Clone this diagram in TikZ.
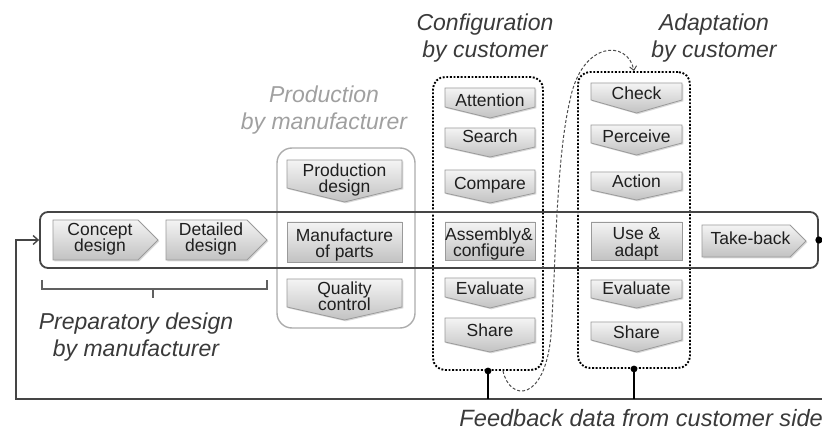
\documentclass[tikz,border=0pt]{standalone}
\usepackage{fontspec}
\setmainfont{Liberation Sans}
\usetikzlibrary{shadows,arrows.meta}
\definecolor{linegray}{HTML}{454545}
\definecolor{labgray}{HTML}{3A3A3A}
\definecolor{prodgray}{HTML}{A0A0A0}
\definecolor{stepedge}{HTML}{9A9A9A}
\definecolor{steptop}{HTML}{F4F4F4}
\definecolor{stepbot}{HTML}{C2C2C2}
% down-pointing step: style, name, x1, x2, ytop, ybody, ytip, text y, text
\newcommand\dstep[9]{%
  \path[stepfill] (#3,#5) -- (#4,#5) -- (#4,#6) -- ({(#3+#4)/2},#7) -- (#3,#6) -- cycle;
  \node[#1] (#2) at ({(#3+#4)/2},#8) {#9};}
% right-pointing step: style, name, x1, xbody, xtip, ytop, ybot, text
\newcommand\rstep[8]{%
  \path[stepfill] (#3,#6) -- (#4,#6) -- (#5,{(#6+#7)/2}) -- (#4,#7) -- (#3,#7) -- cycle;
  \node[#1] (#2) at ({(#3+#4)/2+4.5},{(#6+#7)/2-1}) {#8};}
% rectangular step: style, name, x1, x2, ytop, ybot, text y, text
\newcommand\bstep[7]{%
  \path[stepfill] (#3,#5) rectangle (#4,#6);
  \node[#1] (#2) at ({(#3+#4)/2},#7) {};}
\begin{document}
\begin{tikzpicture}[x=1pt,y=-1pt,
  stepfill/.style={draw=stepedge, line width=0.8pt, top color=steptop, bottom color=stepbot,
    drop shadow={shadow xshift=1.3pt, shadow yshift=-1.3pt, opacity=0.3, fill=gray}},
  steptext/.style={font=\fontsize{17.5}{16.5}\selectfont, text=black!88, align=center, inner sep=0pt},
  onel/.style={steptext, text height=12.5pt, text depth=3.5pt},
  lab/.style={font=\fontsize{23}{27.5}\selectfont\itshape, text=labgray, align=center, inner sep=0pt},
  dotbox/.style={draw=black, line width=1.9pt, dash pattern=on 1.9pt off 1.7pt, rounded corners=12pt, inner sep=0pt},
  mainline/.style={draw=linegray, line width=1.8pt},
  thinline/.style={draw=black, line width=1.1pt},
]
\useasboundingbox (0,0) rectangle (822,430);

% ---------- group boxes ----------
\node[draw=gray!65, line width=1.4pt, rounded corners=15pt, minimum width=138pt, minimum height=180pt, inner sep=0pt] (prod) at (346,238) {};
\node[dotbox, minimum width=110pt, minimum height=293pt] (cfg) at (488,223.5) {};
\node[dotbox, minimum width=112pt, minimum height=296pt] (adp) at (634,220) {};
\node[mainline, rounded corners=8pt, minimum width=778pt, minimum height=56pt, inner sep=0pt] (main) at (429,240) {};

% ---------- labels ----------
\node[lab] (lcfg) at (485,38) {Configuration\\by customer};
\node[lab] (ladp) at (714,38) {Adaptation\\by customer};
\node[lab, text=prodgray] (lprod) at (324,110) {Production\\by manufacturer};
\node[lab] (lprep) at (136,337) {Preparatory design\\by manufacturer};
\node[lab, font=\fontsize{23.6}{28}\selectfont\itshape, anchor=base east] (lfb) at (823,426) {Feedback data from customer side};

% ---------- preparatory steps ----------
\rstep{steptext}{concept}{53}{138}{158}{220}{260}{Concept\\design}
\rstep{steptext}{detail}{166}{247}{267}{220}{260}{Detailed\\design}
\rstep{onel}{take}{702}{790}{806}{225}{257}{Take-back}

% ---------- production steps ----------
\dstep{steptext}{pdes}{287}{402}{160}{188}{202}{180}{Production\\design}
\path[stepfill] (287,222) rectangle (402,262);
\node[steptext] (manu) at (344.5,245) {Manufacture\\of parts};
\dstep{steptext}{qual}{287}{402}{279}{307}{320}{296}{Quality\\control}

% ---------- configuration steps ----------
\dstep{onel}{att}{445}{535}{88}{107}{118}{102.5}{Attention}
\dstep{onel}{search}{445}{535}{128}{147}{157}{138.5}{Search}
\dstep{onel}{comp}{445}{535}{170}{193}{203}{185.5}{Compare}
\path[stepfill] (445,222) rectangle (535,260);
\node[steptext] (asm) at (489,244) {Assembly\&\\configure};
\dstep{onel}{eval1}{445}{535}{278}{297}{308}{290.5}{Evaluate}
\dstep{onel}{share1}{445}{535}{318}{342}{352}{332.5}{Share}

% ---------- adaptation steps ----------
\dstep{onel}{check}{591}{682}{83}{100}{113}{95.5}{Check}
\dstep{onel}{perc}{591}{682}{125}{143}{155}{138.5}{Perceive}
\dstep{onel}{act}{591}{682}{172}{190}{200}{183.5}{Action}
\path[stepfill] (591,222) rectangle (682,260);
\node[steptext] (use) at (636.5,244) {Use \&\\adapt};
\dstep{onel}{eval2}{591}{682}{280}{298}{308}{290.5}{Evaluate}
\dstep{onel}{share2}{591}{682}{322}{340}{352}{333.5}{Share}

% ---------- bracket ----------
\coordinate (brL) at (42,280);
\coordinate (brR) at (267,280);
\draw[draw=gray!75!black, line width=1.4pt] (brL) -- ++(0,9) -| (brR);
\draw[draw=gray!75!black, line width=1.4pt] (153,289) -- (153,298);

% ---------- feedback ----------
\coordinate (fbL) at (16,399);
\coordinate (fbR) at (822,399);
\draw[mainline, -{Straight Barb[length=5pt,width=9pt,line width=1.4pt]}] (fbR) -- (fbL) |- (main.west);
\fill[black] (main.east) circle (3.6pt);
\fill[black] (cfg.south) circle (3.4pt);
\fill[black] (adp.south) circle (3.4pt);
\draw[thinline] (cfg.south) -- (cfg.south |- fbR);
\draw[thinline] (adp.south) -- (adp.south |- fbR);

% ---------- dashed loop ----------
\draw[draw=black!70, line width=1pt, dash pattern=on 3pt off 2pt, -{Straight Barb[length=4pt,width=7pt,line width=1pt]}]
  ([xshift=15pt]cfg.south) .. controls (510,402) and (545,402) .. (551,335)
  .. controls (556,260) and (556,160) .. (570,100)
  .. controls (582,40) and (628,40) .. (adp.north);
\end{tikzpicture}
\end{document}
